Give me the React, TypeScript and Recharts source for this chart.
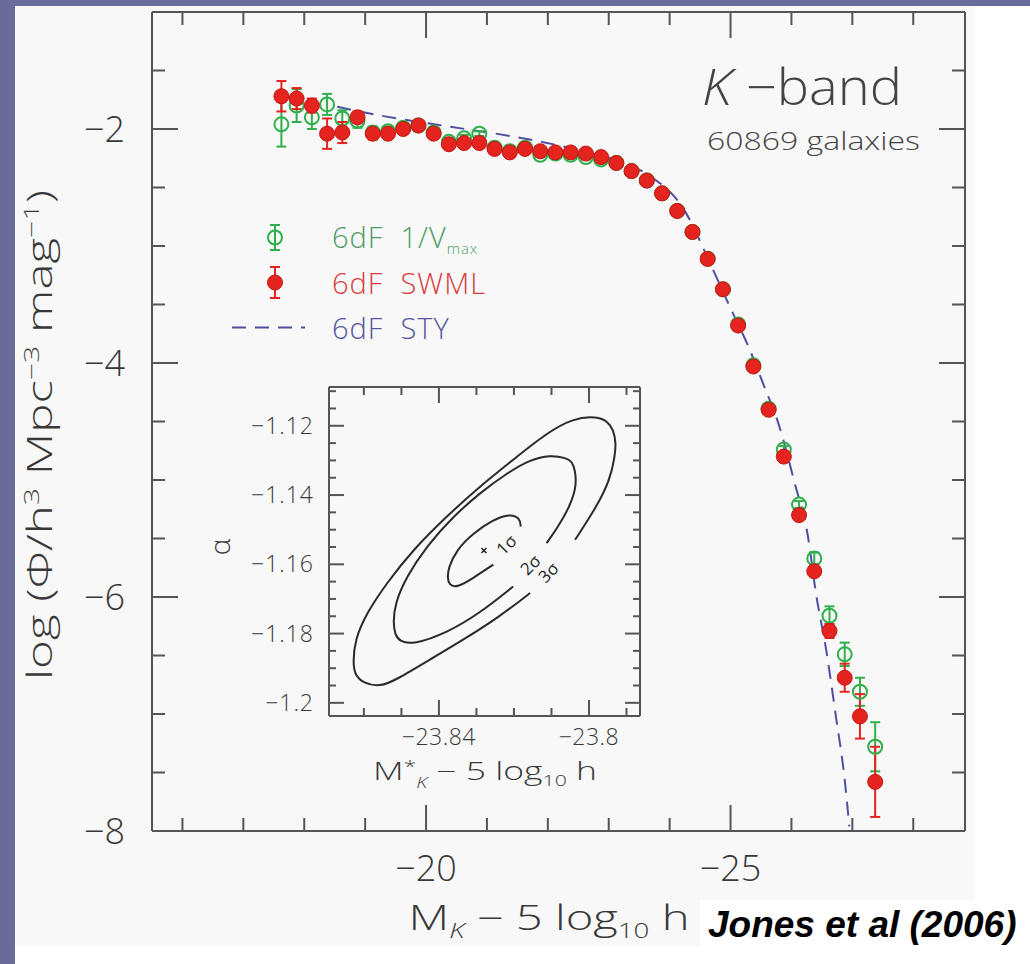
import React from 'react';
import { ComposedChart, Scatter, Line, XAxis, YAxis, ErrorBar, Legend } from 'recharts';

const FONT = "'Open Sans', 'DejaVu Sans', sans-serif";
const FRAME = '#555555';
const INK = '#383838';
const GREEN = '#2fb04c';
const RED = '#e5231f';
const BLUE = '#4f4f9f';

// K-band absolute magnitude bins (0.25 mag)
const magBins = [
  -17.625, -17.875, -18.125, -18.375, -18.625, -18.875, -19.125, -19.375, -19.625, -19.875,
  -20.125, -20.375, -20.625, -20.875, -21.125, -21.375, -21.625, -21.875, -22.125, -22.375,
  -22.625, -22.875, -23.125, -23.375, -23.625, -23.875, -24.125, -24.375, -24.625, -24.875,
  -25.125, -25.375, -25.625, -25.875, -26.125, -26.375, -26.625, -26.875, -27.125, -27.375,
];

// 6dF 1/Vmax estimate
const vmaxPhi = [
  -1.96, -1.8, -1.9, -1.79, -1.91, -1.93, -2.03, -2.02, -1.99, -1.97,
  -2.03, -2.11, -2.08, -2.04, -2.16, -2.19, -2.16, -2.22, -2.21, -2.22,
  -2.24, -2.26, -2.29, -2.36, -2.44, -2.55, -2.7, -2.88, -3.11, -3.37,
  -3.67, -4.02, -4.39, -4.74, -5.21, -5.67, -6.16, -6.49, -6.81, -7.28,
];
const vmaxErr = [
  0.19, 0.14, 0.1, 0.09, 0.07, 0.06, 0.05, 0.04, 0.04, 0.03,
  0.03, 0.03, 0.03, 0.02, 0.02, 0.02, 0.02, 0.02, 0.02, 0.02,
  0.02, 0.02, 0.02, 0.02, 0.02, 0.02, 0.02, 0.02, 0.02, 0.02,
  0.02, 0.02, 0.02, 0.03, 0.03, 0.05, 0.08, 0.1, 0.12, 0.21,
];

// 6dF SWML estimate
const swmlPhi = [
  -1.72, -1.74, -1.8, -2.04, -2.03, -1.9, -2.04, -2.04, -2.0, -1.97,
  -2.04, -2.13, -2.12, -2.12, -2.17, -2.2, -2.17, -2.19, -2.2, -2.2,
  -2.21, -2.24, -2.29, -2.36, -2.44, -2.55, -2.7, -2.88, -3.11, -3.37,
  -3.68, -4.03, -4.4, -4.8, -5.3, -5.78, -6.29, -6.69, -7.02, -7.58,
];
const swmlErr = [
  0.13, 0.09, 0.06, 0.13, 0.09, 0.05, 0.05, 0.04, 0.03, 0.03,
  0.03, 0.02, 0.02, 0.02, 0.02, 0.02, 0.02, 0.02, 0.02, 0.02,
  0.02, 0.02, 0.02, 0.02, 0.02, 0.02, 0.02, 0.02, 0.02, 0.02,
  0.02, 0.02, 0.02, 0.03, 0.03, 0.04, 0.06, 0.12, 0.19, 0.3,
];

// 6dF STY fit (dashed curve)
const styMag = [
  -18.54, -19.3, -20.39, -21.49, -22.58, -23.2, -23.7, -24.2, -24.71, -24.98,
  -25.31, -25.53, -25.8, -26.05, -26.27, -26.4, -26.57, -26.73, -26.87, -26.95,
];
const styPhi = [
  -1.81, -1.89, -1.98, -2.07, -2.19, -2.28, -2.41, -2.66, -3.2, -3.51,
  -3.88, -4.17, -4.54, -5.02, -5.48, -5.96, -6.45, -7.02, -7.54, -7.96,
];

const magTicks = [-16, -17, -18, -19, -20, -21, -22, -23, -24, -25, -26, -27, -28];
const magLabels = [-20, -25];
const phiTicks = [-8, -7.5, -7, -6.5, -6, -5.5, -5, -4.5, -4, -3.5, -3, -2.5, -2, -1.5];
const phiLabels = [-2, -4, -6, -8];

// inset: M* - alpha likelihood contours (each starts just past its label)
const sig1M = [-23.8255, -23.8309, -23.8353, -23.8373, -23.8377, -23.8375, -23.8353, -23.8309, -23.8255, -23.8211, -23.8184, -23.8182];
const sig1A = [-1.1601, -1.164, -1.1668, -1.1659, -1.1639, -1.1611, -1.1558, -1.151, -1.1471, -1.1454, -1.1466, -1.1491];
const sig2M = [
  -23.8202, -23.8291, -23.8379, -23.8469, -23.8504, -23.8517, -23.8522, -23.8517, -23.8486, -23.8433,
  -23.8362, -23.8291, -23.8219, -23.8157, -23.8104, -23.8059, -23.8045, -23.8037, -23.8033, -23.8051,
  -23.8082, -23.8113,
];
const sig2A = [
  -1.1664, -1.1741, -1.1798, -1.1832, -1.1823, -1.1803, -1.1769, -1.1712, -1.1635, -1.1548,
  -1.1462, -1.1394, -1.1337, -1.1298, -1.1284, -1.1293, -1.1304, -1.1327, -1.1375, -1.1433,
  -1.1491, -1.1539,
];
const sig3M = [
  -23.8157, -23.8237, -23.8335, -23.8424, -23.8513, -23.8557, -23.8602, -23.8624, -23.8629, -23.8624,
  -23.8593, -23.8539, -23.8469, -23.838, -23.8291, -23.8202, -23.8113, -23.8042, -23.7979, -23.7949,
  -23.7935, -23.7928, -23.7931, -23.7944, -23.7979, -23.8037,
];
const sig3A = [
  -1.1683, -1.175, -1.1818, -1.1875, -1.1933, -1.1954, -1.1943, -1.1919, -1.1885, -1.1818,
  -1.1741, -1.1654, -1.1558, -1.1462, -1.1375, -1.1298, -1.1221, -1.1178, -1.1173, -1.1188,
  -1.1212, -1.1249, -1.1289, -1.1356, -1.1433, -1.1529,
];
const bestFitM = [-23.828];
const bestFitA = [-1.156];
const sigmaNames = ['1σ', '2σ', '3σ'];
const sigmaLabelM = [-23.8221, -23.8157, -23.8109];
const sigmaLabelA = [-1.1543, -1.1601, -1.1623];

const insetMTicks = [-23.86, -23.85, -23.84, -23.83, -23.82, -23.81, -23.8, -23.79];
const insetMLabels = [-23.84, -23.8];
const insetATicks = [
  -1.2, -1.195, -1.19, -1.185, -1.18, -1.175, -1.17, -1.165, -1.16, -1.155,
  -1.15, -1.145, -1.14, -1.135, -1.13, -1.125, -1.12, -1.115, -1.11,
];
const insetALabels = [-1.12, -1.14, -1.16, -1.18, -1.2];

const vmaxData = magBins.map((mag, i) => ({ mag, phi: vmaxPhi[i], err: vmaxErr[i] }));
const swmlData = magBins.map((mag, i) => ({ mag, phi: swmlPhi[i], err: swmlErr[i] }));
const styData = styMag.map((mag, i) => ({ mag, phi: styPhi[i] }));
const toPts = (ms: number[], as: number[]) => ms.map((m, i) => ({ m, a: as[i] }));
const sig1 = toPts(sig1M, sig1A);
const sig2 = toPts(sig2M, sig2A);
const sig3 = toPts(sig3M, sig3A);
const bestFit = toPts(bestFitM, bestFitA);
const sigmaLabels = sigmaLabelM.map((m, i) => ({ m, a: sigmaLabelA[i], name: sigmaNames[i] }));

const minus = (v: number) => `\u2212${Math.abs(v)}`;

type Side = 'bottom' | 'top' | 'left' | 'right';
interface TickLabel {
  size: number;
  dx: number;
  dy: number;
  spacing?: number;
}

// PGPLOT-style inward ticks; the axis passes x/y at the axis line itself
function makeTick(side: Side, majors: number[], majorLen: number, minorLen: number, lab?: TickLabel) {
  return (props: any) => {
    const { x, y, payload } = props;
    const v = payload.value;
    const major = majors.some((m) => Math.abs(m - v) < 1e-6);
    const len = major ? majorLen : minorLen;
    let x2 = x;
    let y2 = y;
    if (side === 'bottom') y2 = y - len;
    if (side === 'top') y2 = y + len;
    if (side === 'left') x2 = x + len;
    if (side === 'right') x2 = x - len;
    return (
      <g>
        <line x1={x} y1={y} x2={x2} y2={y2} stroke={FRAME} strokeWidth={2} />
        {major && lab && (
          <text
            x={side === 'left' ? x - lab.dx : x}
            y={y + lab.dy}
            textAnchor={side === 'left' ? 'end' : 'middle'}
            fontFamily={FONT}
            fontWeight={300}
            fontSize={lab.size}
            letterSpacing={lab.spacing ?? 0}
            fill={INK}
          >
            {minus(v)}
          </text>
        )}
      </g>
    );
  };
}

const frameLine = { stroke: FRAME, strokeWidth: 2 };

const openCircle = (p: any) => (
  <circle cx={p.cx} cy={p.cy} r={7} fill="none" stroke={GREEN} strokeWidth={2} />
);
const filledCircle = (p: any) => (
  <circle cx={p.cx} cy={p.cy} r={7.5} fill={RED} stroke="#c21712" strokeWidth={1} />
);
const crossMark = (p: any) => (
  <g stroke="#222" strokeWidth={1.5}>
    <line x1={p.cx - 2.5} y1={p.cy - 2.5} x2={p.cx + 2.5} y2={p.cy + 2.5} />
    <line x1={p.cx - 2.5} y1={p.cy + 2.5} x2={p.cx + 2.5} y2={p.cy - 2.5} />
  </g>
);
const sigmaText = (p: any) => (
  <text
    x={p.cx}
    y={p.cy}
    transform={`rotate(-45 ${p.cx} ${p.cy})`}
    textAnchor="middle"
    dominantBaseline="central"
    fontFamily={FONT}
    fontSize={17}
    fill="#222"
  >
    {p.payload.name}
  </text>
);
const noMark = () => <g />;

function SeriesLegend() {
  const row: React.CSSProperties = { display: 'flex', alignItems: 'center', height: 45 };
  const label: React.CSSProperties = { marginLeft: 7, whiteSpace: 'pre', letterSpacing: 1 };
  return (
    <div style={{ fontFamily: FONT, fontWeight: 300, fontSize: 29 }}>
      <div style={row}>
        <svg width={100} height={45}>
          <g stroke={GREEN} strokeWidth={2}>
            <line x1={50} x2={50} y1={10} y2={35} />
            <line x1={45} x2={55} y1={10} y2={10} />
            <line x1={45} x2={55} y1={35} y2={35} />
            <circle cx={50} cy={22.5} r={7} fill="none" />
          </g>
        </svg>
        <span style={{ ...label, color: '#4c9d63' }}>
          6dF  1/V<sub style={{ fontSize: 15, verticalAlign: -6 }}>max</sub>
        </span>
      </div>
      <div style={row}>
        <svg width={100} height={45}>
          <g stroke={RED} strokeWidth={2}>
            <line x1={50} x2={50} y1={7} y2={38} />
            <line x1={45} x2={55} y1={7} y2={7} />
            <line x1={45} x2={55} y1={38} y2={38} />
          </g>
          <circle cx={50} cy={22.5} r={7.5} fill={RED} stroke="#c21712" />
        </svg>
        <span style={{ ...label, color: '#d93c3c' }}>6dF  SWML</span>
      </div>
      <div style={row}>
        <svg width={100} height={45}>
          <line x1={7} x2={80} y1={22.5} y2={22.5} stroke={BLUE} strokeWidth={2} strokeDasharray="14 9" />
        </svg>
        <span style={{ ...label, color: '#5454a0' }}>6dF  STY</span>
      </div>
    </div>
  );
}

const mainXTitle = () => (
  <text x={549} y={930} textAnchor="middle" fontFamily={FONT} fontWeight={300} fontSize={34} fill={INK} textLength={281} lengthAdjust="spacingAndGlyphs">
    M<tspan dy={8} fontSize={20} fontStyle="italic">K</tspan>
    <tspan dy={-8}> − 5 log</tspan>
    <tspan dy={8} fontSize={20}>10</tspan>
    <tspan dy={-8}> h</tspan>
  </text>
);

const mainYTitle = () => (
  <text x={52} y={435} transform="rotate(-90 52 435)" textAnchor="middle" fontFamily={FONT} fontWeight={300} fontSize={34} fill={INK} textLength={490} lengthAdjust="spacingAndGlyphs">
    log (Φ/h<tspan dy={-13} fontSize={21}>3</tspan>
    <tspan dy={13}> Mpc</tspan>
    <tspan dy={-13} fontSize={21}>−3</tspan>
    <tspan dy={13}> mag</tspan>
    <tspan dy={-13} fontSize={21}>−1</tspan>
    <tspan dy={13}>)</tspan>
  </text>
);

const insetXTitle = () => (
  <text x={285} y={410} textAnchor="middle" fontFamily={FONT} fontWeight={300} fontSize={25} fill={INK} textLength={224} lengthAdjust="spacingAndGlyphs">
    M<tspan dy={-8} fontSize={16}>*</tspan>
    <tspan dy={16} fontSize={14} fontStyle="italic">K</tspan>
    <tspan dy={-8}> − 5 log</tspan>
    <tspan dy={6} fontSize={15}>10</tspan>
    <tspan dy={-6}> h</tspan>
  </text>
);

const insetYTitle = () => (
  <text x={30} y={177} transform="rotate(-90 30 177)" textAnchor="middle" fontFamily={FONT} fontWeight={300} fontSize={28} fill={INK}>
    α
  </text>
);

export default function App() {
  return (
    <div style={{ position: 'absolute', left: 0, top: 0, width: 1030, height: 964, background: '#ffffff', overflow: 'hidden' }}>
      <div style={{ position: 'absolute', left: 15, top: 6, width: 960, height: 940, background: '#f8f8f8' }} />
      <div style={{ position: 'absolute', left: 0, top: 0, width: 1030, height: 6, background: '#6b6b9b' }} />
      <div style={{ position: 'absolute', left: 0, top: 0, width: 15, height: 964, background: '#6b6b9b' }} />

      <div style={{ position: 'absolute', left: 0, top: 0 }}>
        <ComposedChart width={1030} height={964} margin={{ top: 11, right: 64, bottom: 73, left: 52 }}>
          <XAxis
            xAxisId={0}
            dataKey="mag"
            type="number"
            domain={[-28.85, -15.5]}
            reversed
            allowDataOverflow
            ticks={magTicks}
            interval={0}
            height={60}
            tickSize={0}
            tickMargin={0}
            tickLine={false}
            axisLine={frameLine}
            tick={makeTick('bottom', magLabels, 26, 13, { size: 36, dx: 0, dy: 50 })}
            label={{ content: mainXTitle }}
          />
          <XAxis
            xAxisId="top"
            orientation="top"
            dataKey="mag"
            type="number"
            domain={[-28.85, -15.5]}
            reversed
            allowDataOverflow
            ticks={magTicks}
            interval={0}
            height={1}
            tickSize={0}
            tickMargin={0}
            tickLine={false}
            axisLine={frameLine}
            tick={makeTick('top', magLabels, 26, 13)}
          />
          <YAxis
            yAxisId={0}
            dataKey="phi"
            type="number"
            domain={[-8, -1]}
            allowDataOverflow
            ticks={phiTicks}
            interval={0}
            width={100}
            tickSize={0}
            tickMargin={0}
            tickLine={false}
            axisLine={frameLine}
            tick={makeTick('left', phiLabels, 26, 13, { size: 36, dx: 27, dy: 13 })}
            label={{ content: mainYTitle }}
          />
          <YAxis
            yAxisId="right"
            orientation="right"
            dataKey="phi"
            type="number"
            domain={[-8, -1]}
            allowDataOverflow
            ticks={phiTicks}
            interval={0}
            width={1}
            tickSize={0}
            tickMargin={0}
            tickLine={false}
            axisLine={frameLine}
            tick={makeTick('right', phiLabels, 26, 13)}
          />
          <Line
            xAxisId={0}
            yAxisId={0}
            data={styData}
            dataKey="phi"
            type="monotone"
            stroke={BLUE}
            strokeWidth={2}
            strokeDasharray="14 9"
            dot={false}
            isAnimationActive={false}
          />
          <Scatter xAxisId={0} yAxisId={0} data={vmaxData} dataKey="phi" shape={openCircle} isAnimationActive={false}>
            <ErrorBar dataKey="err" direction="y" width={5} stroke={GREEN} strokeWidth={2} />
          </Scatter>
          <Scatter xAxisId={0} yAxisId={0} data={swmlData} dataKey="phi" shape={filledCircle} isAnimationActive={false}>
            <ErrorBar dataKey="err" direction="y" width={5} stroke={RED} strokeWidth={2} />
          </Scatter>
          <Scatter xAxisId="top" yAxisId="right" data={swmlData} dataKey="phi" shape={noMark} isAnimationActive={false} />
          <Legend
            layout="horizontal"
            verticalAlign="middle"
            align="center"
            content={() => <SeriesLegend />}
            wrapperStyle={{ left: 225, top: 215, width: 340, height: 135 }}
          />
        </ComposedChart>
      </div>

      <div style={{ position: 'absolute', left: 200, top: 370 }}>
        <ComposedChart width={460} height={430} margin={{ top: 16, right: 19, bottom: 24, left: 49 }}>
          <XAxis
            xAxisId={0}
            dataKey="m"
            type="number"
            domain={[-23.8693, -23.7864]}
            allowDataOverflow
            ticks={insetMTicks}
            interval={0}
            height={60}
            tickSize={0}
            tickMargin={0}
            tickLine={false}
            axisLine={frameLine}
            tick={makeTick('bottom', insetMLabels, 16, 8, { size: 23, dx: 0, dy: 29, spacing: 0.5 })}
            label={{ content: insetXTitle }}
          />
          <XAxis
            xAxisId="top"
            orientation="top"
            dataKey="m"
            type="number"
            domain={[-23.8693, -23.7864]}
            allowDataOverflow
            ticks={insetMTicks}
            interval={0}
            height={1}
            tickSize={0}
            tickMargin={0}
            tickLine={false}
            axisLine={frameLine}
            tick={makeTick('top', insetMLabels, 16, 8)}
          />
          <YAxis
            yAxisId={0}
            dataKey="a"
            type="number"
            domain={[-1.2038, -1.1088]}
            allowDataOverflow
            ticks={insetATicks}
            interval={0}
            width={80}
            tickSize={0}
            tickMargin={0}
            tickLine={false}
            axisLine={frameLine}
            tick={makeTick('left', insetALabels, 15, 7, { size: 23, dx: 15, dy: 8, spacing: 1 })}
            label={{ content: insetYTitle }}
          />
          <YAxis
            yAxisId="right"
            orientation="right"
            dataKey="a"
            type="number"
            domain={[-1.2038, -1.1088]}
            allowDataOverflow
            ticks={insetATicks}
            interval={0}
            width={1}
            tickSize={0}
            tickMargin={0}
            tickLine={false}
            axisLine={frameLine}
            tick={makeTick('right', insetALabels, 15, 7)}
          />
          {[sig1, sig2, sig3].map((pts, i) => (
            <Line
              key={i}
              xAxisId={0}
              yAxisId={0}
              data={pts}
              dataKey="a"
              type="basis"
              stroke="#2a2a2a"
              strokeWidth={2}
              dot={false}
              isAnimationActive={false}
            />
          ))}
          <Scatter xAxisId={0} yAxisId={0} data={bestFit} dataKey="a" shape={crossMark} isAnimationActive={false} />
          <Scatter xAxisId={0} yAxisId={0} data={sigmaLabels} dataKey="a" shape={sigmaText} isAnimationActive={false} />
          <Scatter xAxisId="top" yAxisId="right" data={bestFit} dataKey="a" shape={noMark} isAnimationActive={false} />
        </ComposedChart>
      </div>

      <svg width={1030} height={964} style={{ position: 'absolute', left: 0, top: 0, pointerEvents: 'none' }}>
        <text x={702} y={105} fontFamily={FONT} fontWeight={300} fontSize={50} fill="#444" textLength={200} lengthAdjust="spacingAndGlyphs">
          <tspan fontStyle="italic">K</tspan> −band
        </text>
        <text x={707} y={150} fontFamily={FONT} fontWeight={300} fontSize={26} fill="#444" textLength={213} lengthAdjust="spacingAndGlyphs">
          60869  galaxies
        </text>
        <rect x={700} y={900} width={330} height={52} fill="#ffffff" />
        <text x={708} y={937} fontFamily="'Liberation Sans Narrow', 'Arial Narrow', 'Liberation Sans', Arial, sans-serif" fontWeight={700} fontStyle="italic" fontSize={37} fill="#000">
          Jones et al (2006)
        </text>
      </svg>
    </div>
  );
}
